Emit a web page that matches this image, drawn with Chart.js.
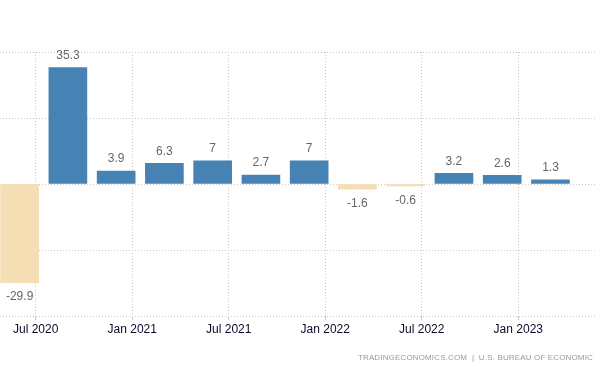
<!DOCTYPE html>
<html>
<head>
<meta charset="utf-8">
<script src="https://cdn.jsdelivr.net/npm/chart.js@4.4.0/dist/chart.umd.min.js"></script>
<style>
  html, body { margin: 0; padding: 0; background: #fff; }
  #wrap { position: relative; width: 598px; height: 367px; }
  #note { position: absolute; right: 5px; top: 353px; font: 8px "Liberation Sans", Arial, sans-serif; color: #999; letter-spacing: 0.15px; white-space: nowrap; }
</style>
</head>
<body>
<div id="wrap">
  <canvas id="c" width="598" height="367"></canvas>
  <div id="note">TRADINGECONOMICS.COM &nbsp;|&nbsp; U.S. BUREAU OF ECONOMIC</div>
</div>
<script>
// Data
const quarters = ['Q2 2020','Q3 2020','Q4 2020','Q1 2021','Q2 2021','Q3 2021','Q4 2021','Q1 2022','Q2 2022','Q3 2022','Q4 2022','Q1 2023'];
const barDates = ['2020-06','2020-09','2020-12','2021-03','2021-06','2021-09','2021-12','2022-03','2022-06','2022-09','2022-12','2023-03'];
const values = [-29.9, 35.3, 3.9, 6.3, 7, 2.7, 7, -1.6, -0.6, 3.2, 2.6, 1.3];
const tickDates = ['2020-07','2021-01','2021-07','2022-01','2022-07','2023-01'];
const tickLabels = ['Jul 2020','Jan 2021','Jul 2021','Jan 2022','Jul 2022','Jan 2023'];
const yTicks = [-40, -20, 0, 20, 40];

// month index since Jan 2020 (0 = Jan 2020, 1st of month)
function monthIndex(s) { const [y, m] = s.split('-').map(Number); return (y - 2020) * 12 + (m - 1); }
const points = values.map((v, i) => ({ x: monthIndex(barDates[i]), y: v }));
const tickPos = tickDates.map(monthIndex);

const valueLabels = {
  id: 'valueLabels',
  afterDatasetsDraw(chart) {
    const ctx = chart.ctx;
    const meta = chart.getDatasetMeta(0);
    ctx.save();
    ctx.font = '12px "Liberation Sans", Arial, sans-serif';
    ctx.fillStyle = '#666';
    ctx.textAlign = 'center';
    ctx.textBaseline = 'middle';
    meta.data.forEach((bar, i) => {
      const v = values[i];
      const y = v >= 0 ? bar.y - 12 : bar.y + 14.5;
      ctx.fillText(String(v), bar.x, y);
    });
    ctx.restore();
  }
};

new Chart(document.getElementById('c'), {
  type: 'bar',
  data: {
    datasets: [{
      data: points,
      backgroundColor: values.map(v => v >= 0 ? '#4682B4' : '#F5DEB3'),
      borderWidth: 0,
      barThickness: 38
    }]
  },
  options: {
    responsive: false,
    animation: false,
    events: [],
    layout: { padding: { top: 52, left: 0, right: 2, bottom: 0 } },
    plugins: { legend: { display: false }, tooltip: { enabled: false } },
    scales: {
      x: {
        type: 'linear',
        offset: false,
        min: 3.78,
        max: 40.83,
        afterBuildTicks(axis) { axis.ticks = tickPos.map(v => ({ value: v })); },
        afterFit(axis) { axis.height = 51; },
        ticks: {
          autoSkip: false,
          maxRotation: 0,
          padding: 2,
          color: '#0a0a2a',
          font: { family: '"Liberation Sans", Arial, sans-serif', size: 12 },
          callback(val) { const i = tickPos.indexOf(val); return i >= 0 ? tickLabels[i] : ''; }
        },
        grid: { color: '#c8c8c8', lineWidth: 1, drawTicks: true, tickLength: 4, tickColor: '#c8c8c8', offset: false },
        border: { display: false, dash: [1, 2] }
      },
      y: {
        min: -40,
        max: 40,
        afterBuildTicks(axis) { axis.ticks = yTicks.map(v => ({ value: v })); },
        afterFit(axis) { axis.width = 0; },
        ticks: { display: false },
        grid: { color: '#c8c8c8', lineWidth: 1, drawTicks: false },
        border: { display: false, dash: [1, 2] }
      }
    }
  },
  plugins: [valueLabels]
});
</script>
</body>
</html>
